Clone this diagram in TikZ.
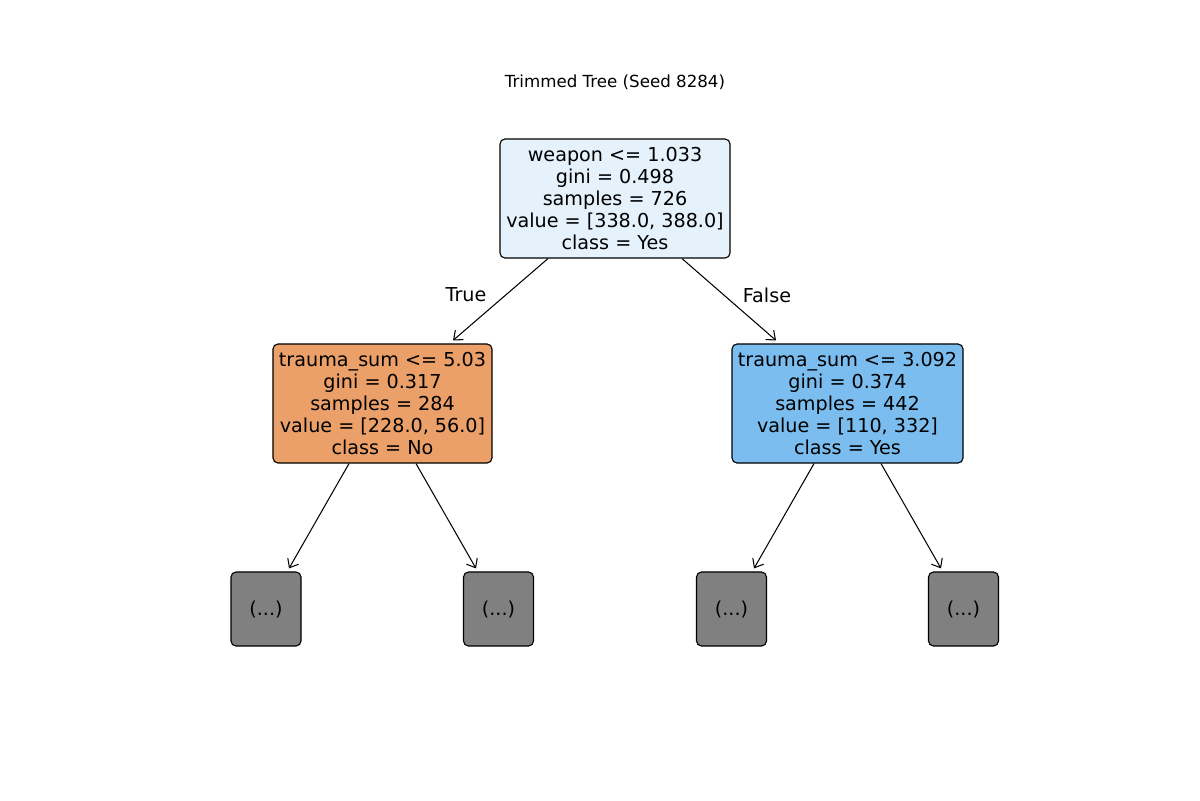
\documentclass[tikz,border=0pt]{standalone}
\usepackage{fontspec}
\setmainfont{DejaVu Sans}
\usetikzlibrary{arrows.meta,calc}
\definecolor{rootfill}{RGB}{229,242,252}
\definecolor{leftfill}{RGB}{235,160,106}
\definecolor{rightfill}{RGB}{123,189,238}
\definecolor{leaffill}{RGB}{128,128,128}
\begin{document}
\begin{tikzpicture}[x=0.72pt,y=-0.72pt,
  box/.style={draw=black,line width=0.8pt,rounded corners=3.6pt,inner sep=0pt,align=center,
    font=\fontsize{13.8}{15.84}\selectfont},
  leafbox/.style={box,fill=leaffill,minimum width=50.4pt,minimum height=53.3pt},
  arr/.style={-{Straight Barb[length=5.5pt,width=9pt]},line width=0.75pt},
  lbl/.style={font=\fontsize{13.8}{15.84}\selectfont,inner sep=0pt}]
\useasboundingbox (0,0) rectangle (1200,800);
\node[font=\fontsize{12}{14}\selectfont] (title) at (615,82) {Trimmed Tree (Seed 8284)};
\node[box,fill=rootfill,minimum width=165.6pt,minimum height=85.7pt] (root) at (615,198.5)
  {weapon <= 1.033\\gini = 0.498\\samples = 726\\value = [338.0, 388.0]\\class = Yes};
\node[box,fill=leftfill,minimum width=157.7pt,minimum height=85.7pt] (left) at (382.5,403.5)
  {trauma\_sum <= 5.03\\gini = 0.317\\samples = 284\\value = [228.0, 56.0]\\class = No};
\node[box,fill=rightfill,minimum width=166.3pt,minimum height=85.7pt] (right) at (847.5,403.5)
  {trauma\_sum <= 3.092\\gini = 0.374\\samples = 442\\value = [110, 332]\\class = Yes};
\node[leafbox] (l1) at (266,609) {(...)};
\node[leafbox] (l2) at (498.5,609) {(...)};
\node[leafbox] (l3) at (731.5,609) {(...)};
\node[leafbox] (l4) at (963.5,609) {(...)};
\draw[arr] ($(root.south)+(-67,0)$) -- ($(left.north)+(70.5,-3)$);
\draw[arr] ($(root.south)+(67,0)$) -- ($(right.north)+(-71.5,-3)$);
\draw[arr] ($(left.south)+(-33.5,0)$) -- ($(l1.north)+(23,-3)$);
\draw[arr] ($(left.south)+(33.5,0)$) -- ($(l2.north)+(-22.5,-3)$);
\draw[arr] ($(right.south)+(-33.5,0)$) -- ($(l3.north)+(22.5,-3)$);
\draw[arr] ($(right.south)+(33.5,0)$) -- ($(l4.north)+(-22.5,-3)$);
\node[lbl] (ltrue) at (466,295) {True};
\node[lbl] (lfalse) at (767,295) {False};
\end{tikzpicture}
\end{document}
